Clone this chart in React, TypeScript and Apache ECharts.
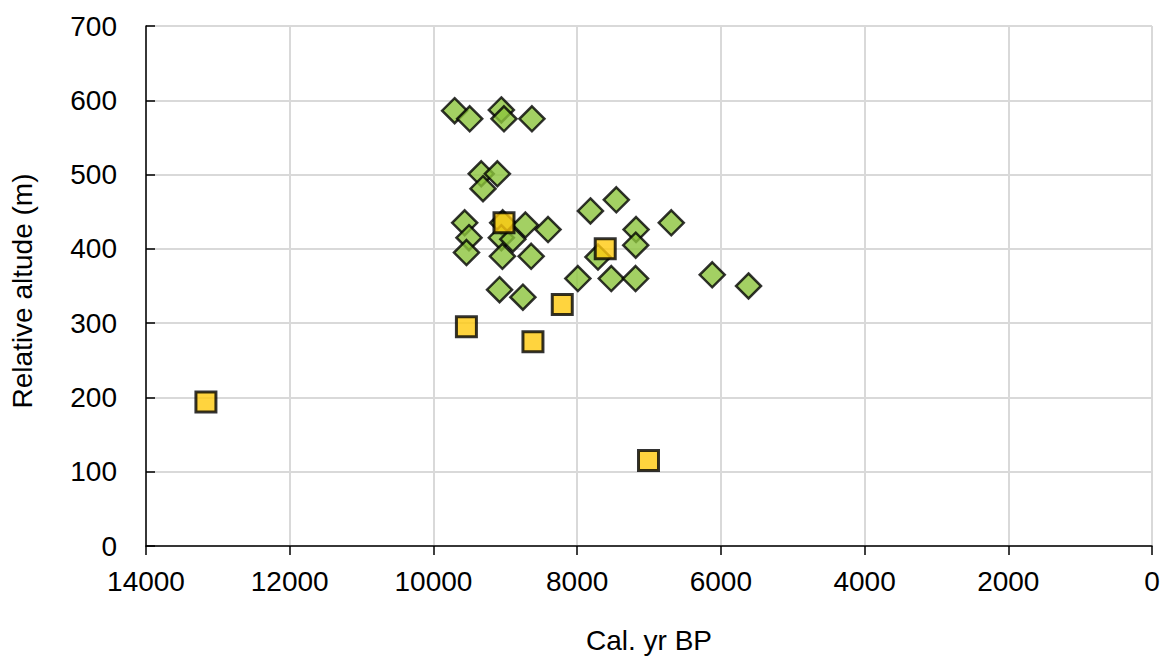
import React, { useEffect, useRef } from "react";
import * as echarts from "echarts";

const xTicks = [0, 2000, 4000, 6000, 8000, 10000, 12000, 14000];
const yTicks = [0, 100, 200, 300, 400, 500, 600, 700];

const greenYears = [
  9705, 9495, 9055, 9018, 8629, 9335, 9110, 9310, 9565, 9505, 9540, 9036, 8720,
  8405, 9055, 8895, 9040, 8640, 9080, 8755, 7815, 7455, 7180, 7185, 6690, 7710,
  7990, 7525, 7187, 6120, 5615,
];
const greenAltitudes = [
  586, 575, 587, 575, 575, 501, 501, 481, 435, 415, 395, 435, 432, 426, 415,
  413, 390, 390, 345, 335, 451, 466, 426, 405, 435, 389, 360, 360, 360, 365,
  350,
];

const yellowYears = [13166, 9541, 9018, 8615, 8207, 7609, 7007];
const yellowAltitudes = [194, 295, 435, 275, 325, 400, 115];

const FONT = "Liberation Sans, Arial, sans-serif";

export default function App() {
  const ref = useRef<HTMLDivElement>(null);
  useEffect(() => {
    if (!ref.current) return;
    const chart = echarts.init(ref.current, null, { renderer: "svg" });
    const green = greenYears.map((x, i) => [x, greenAltitudes[i]]);
    const yellow = yellowYears.map((x, i) => [x, yellowAltitudes[i]]);
    chart.setOption({
      animation: false,
      backgroundColor: "#ffffff",
      grid: { left: 146, right: 14, top: 26, bottom: 113, containLabel: false },
      xAxis: {
        type: "value",
        inverse: true,
        min: xTicks[0],
        max: xTicks[xTicks.length - 1],
        interval: 2000,
        name: "Cal. yr BP",
        nameLocation: "middle",
        nameGap: 80,
        nameTextStyle: { fontFamily: FONT, fontSize: 28, color: "#000" },
        axisLine: { show: true, onZero: false, lineStyle: { color: "#000", width: 1.5 } },
        axisTick: { show: true, length: 9, lineStyle: { color: "#000", width: 1.5 } },
        axisLabel: {
          fontFamily: FONT,
          fontSize: 28,
          color: "#000",
          margin: 21,
          formatter: (v: number) => String(v),
        },
        splitLine: { show: true, lineStyle: { color: "#d9d9d9", width: 2 } },
      },
      yAxis: {
        type: "value",
        position: "left",
        min: yTicks[0],
        max: yTicks[yTicks.length - 1],
        interval: 100,
        name: "Relative altude (m)",
        nameLocation: "middle",
        nameGap: 110,
        nameRotate: 90,
        nameTextStyle: {
          fontFamily: FONT,
          fontSize: 28,
          color: "#000",
          padding: [0, 10, 0, 0],
        },
        axisLine: { show: true, onZero: false, lineStyle: { color: "#000", width: 1.5 } },
        axisTick: { show: true, inside: true, length: 9, lineStyle: { color: "#000", width: 1.5 } },
        axisLabel: { fontFamily: FONT, fontSize: 28, color: "#000", margin: 29 },
        splitLine: { show: true, lineStyle: { color: "#d9d9d9", width: 2 } },
      },
      series: [
        {
          type: "scatter",
          data: green,
          symbol: "diamond",
          symbolSize: 25,
          itemStyle: { color: "#8cc43c", borderColor: "#000", borderWidth: 2.5 },
        },
        {
          type: "scatter",
          data: yellow,
          symbol: "rect",
          symbolSize: 20,
          itemStyle: { color: "#ffc90e", borderColor: "#000", borderWidth: 3 },
        },
      ],
    });
    return () => chart.dispose();
  }, []);
  return (
    <div
      ref={ref}
      style={{ position: "fixed", left: 0, top: 0, width: 1166, height: 659 }}
    />
  );
}
